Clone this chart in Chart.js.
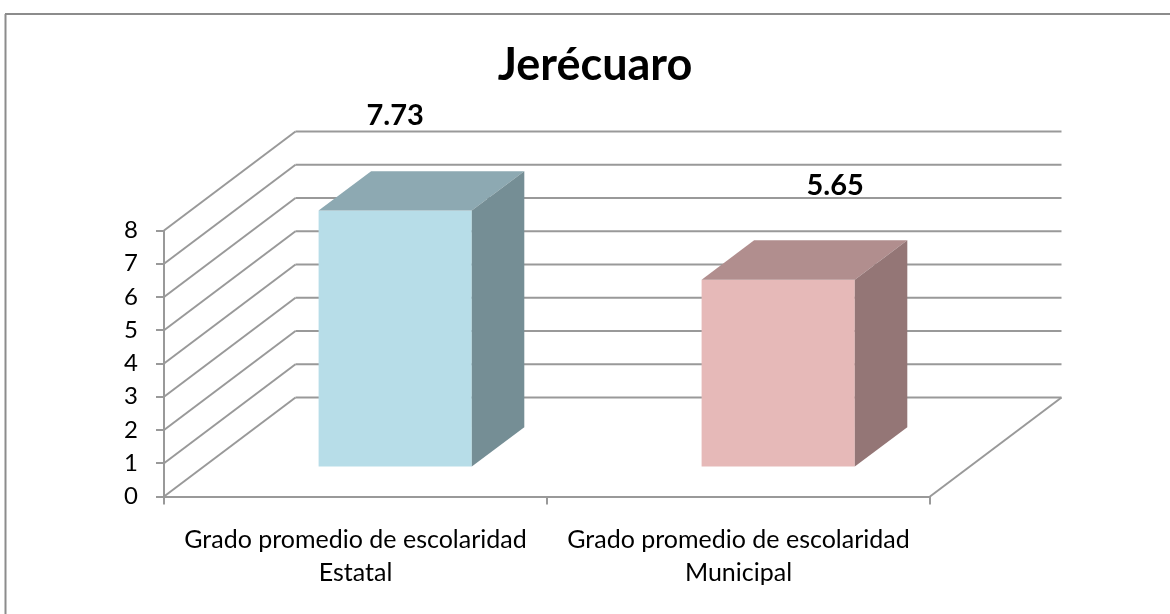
<!DOCTYPE html>
<html>
<head>
<meta charset="utf-8">
<style>
  html, body { margin: 0; padding: 0; background: #fff; }
  canvas { position: absolute; left: 0; top: 0; }
</style>
<script src="https://cdn.jsdelivr.net/npm/chart.js@4"></script>
</head>
<body>
<canvas id="chart" width="1170" height="614"></canvas>
<script>
const categories = [['Grado promedio de escolaridad', 'Estatal'], ['Grado promedio de escolaridad', 'Municipal']];
const values = [7.73, 5.65];
const valueLabels = ['7.73', '5.65'];
const frontColors = ['#b7dde8', '#e6b9b8'];
const topColors = ['#8da9b2', '#b18e8e'];
const sideColors = ['#758e95', '#947676'];
const yTicks = [0, 1, 2, 3, 4, 5, 6, 7, 8];

// depth of the 3d box and of the bars, in pixels
const wall = { dx: 131.5, dy: -99 };
const bar = { dx: 52.5, dy: -39.3 };
const shift = { x: 39.7, y: -29 };
// the two value labels were moved by hand in the original
const labelShift = [{ x: 0, y: -95 }, { x: 57, y: -94 }];
const gridColor = '#999999';
const fontFamily = 'Lato, "Open Sans", sans-serif';

function line(ctx, x1, y1, x2, y2) {
  ctx.beginPath();
  ctx.moveTo(x1, y1);
  ctx.lineTo(x2, y2);
  ctx.stroke();
}

function poly(ctx, pts, color) {
  ctx.fillStyle = color;
  ctx.beginPath();
  pts.forEach((p, i) => i ? ctx.lineTo(p[0], p[1]) : ctx.moveTo(p[0], p[1]));
  ctx.closePath();
  ctx.fill();
}

const box3d = {
  id: 'box3d',
  beforeDraw(chart) {
    // only the top and left edges of the frame fall inside the picture
    const ctx = chart.ctx;
    ctx.save();
    ctx.strokeStyle = '#8c8c8c';
    ctx.lineWidth = 2;
    line(ctx, 5.5, 614, 5.5, 14);
    line(ctx, 5, 14, 1170, 14);
    ctx.restore();
  },
  beforeDatasetsDraw(chart) {
    const { ctx, scales: { x, y } } = chart;
    const left = x.left, right = x.right;
    ctx.save();
    ctx.strokeStyle = gridColor;
    ctx.lineWidth = 2;
    yTicks.forEach(t => {
      const py = y.getPixelForValue(t);
      line(ctx, left, py, left + wall.dx, py + wall.dy);
      line(ctx, left + wall.dx, py + wall.dy, right + wall.dx, py + wall.dy);
    });
    const y0 = y.getPixelForValue(0);
    line(ctx, right, y0, right + wall.dx, y0 + wall.dy);
    ctx.restore();
  },
  beforeDatasetDraw(chart) {
    const ctx = chart.ctx;
    ctx.save();
    ctx.translate(shift.x, shift.y);
  },
  afterDatasetDraw(chart) {
    const ctx = chart.ctx;
    chart.getDatasetMeta(0).data.forEach((el, i) => {
      const p = el.getProps(['x', 'y', 'base', 'width'], true);
      const l = p.x - p.width / 2, r = p.x + p.width / 2;
      poly(ctx, [[l, p.y], [r, p.y], [r + bar.dx, p.y + bar.dy], [l + bar.dx, p.y + bar.dy]], topColors[i]);
      poly(ctx, [[r, p.y], [r + bar.dx, p.y + bar.dy], [r + bar.dx, p.base + bar.dy], [r, p.base]], sideColors[i]);
      ctx.fillStyle = '#000';
      ctx.font = 'bold 29px ' + fontFamily;
      ctx.textAlign = 'center';
      ctx.textBaseline = 'middle';
      ctx.fillText(valueLabels[i], p.x + labelShift[i].x, p.y + labelShift[i].y);
    });
    ctx.restore();
  }
};

new Chart(document.getElementById('chart'), {
  type: 'bar',
  data: {
    labels: categories,
    datasets: [{
      data: values,
      backgroundColor: frontColors,
      barPercentage: 0.4,
      categoryPercentage: 1
    }]
  },
  options: {
    responsive: false,
    animation: false,
    layout: { padding: { left: 20 } },
    plugins: {
      legend: { display: false },
      tooltip: { enabled: false },
      title: {
        display: true,
        text: 'Jerécuaro',
        color: '#000',
        font: { size: 45, weight: 'bold', family: fontFamily, lineHeight: 1.2 },
        padding: { top: 38, bottom: 138.5 }
      }
    },
    scales: {
      x: {
        afterFit(scale) { scale.height = 117.5; },
        grid: { display: true, drawOnChartArea: false, color: gridColor, lineWidth: 2, tickLength: 8 },
        border: { color: gridColor, width: 2 },
        ticks: { color: '#000', maxRotation: 0, font: { size: 25, family: fontFamily, lineHeight: 1.32 }, padding: 18.5 }
      },
      y: {
        min: 0,
        max: 8,
        afterFit(scale) { scale.width = 144; },
        afterBuildTicks(scale) { scale.ticks = yTicks.map(v => ({ value: v })); },
        grid: { display: true, drawOnChartArea: false, color: gridColor, lineWidth: 2, tickLength: 8 },
        border: { color: gridColor, width: 2 },
        ticks: { color: '#000', font: { size: 24, family: fontFamily }, padding: 18 }
      },
      // empty axis that keeps the room for the depth on the right, so the title stays centred like the original
      depth: {
        position: 'right',
        afterFit(scale) { scale.width = 240; },
        grid: { display: false },
        border: { display: false },
        ticks: { display: false }
      }
    }
  },
  plugins: [box3d]
});
</script>
</body>
</html>
